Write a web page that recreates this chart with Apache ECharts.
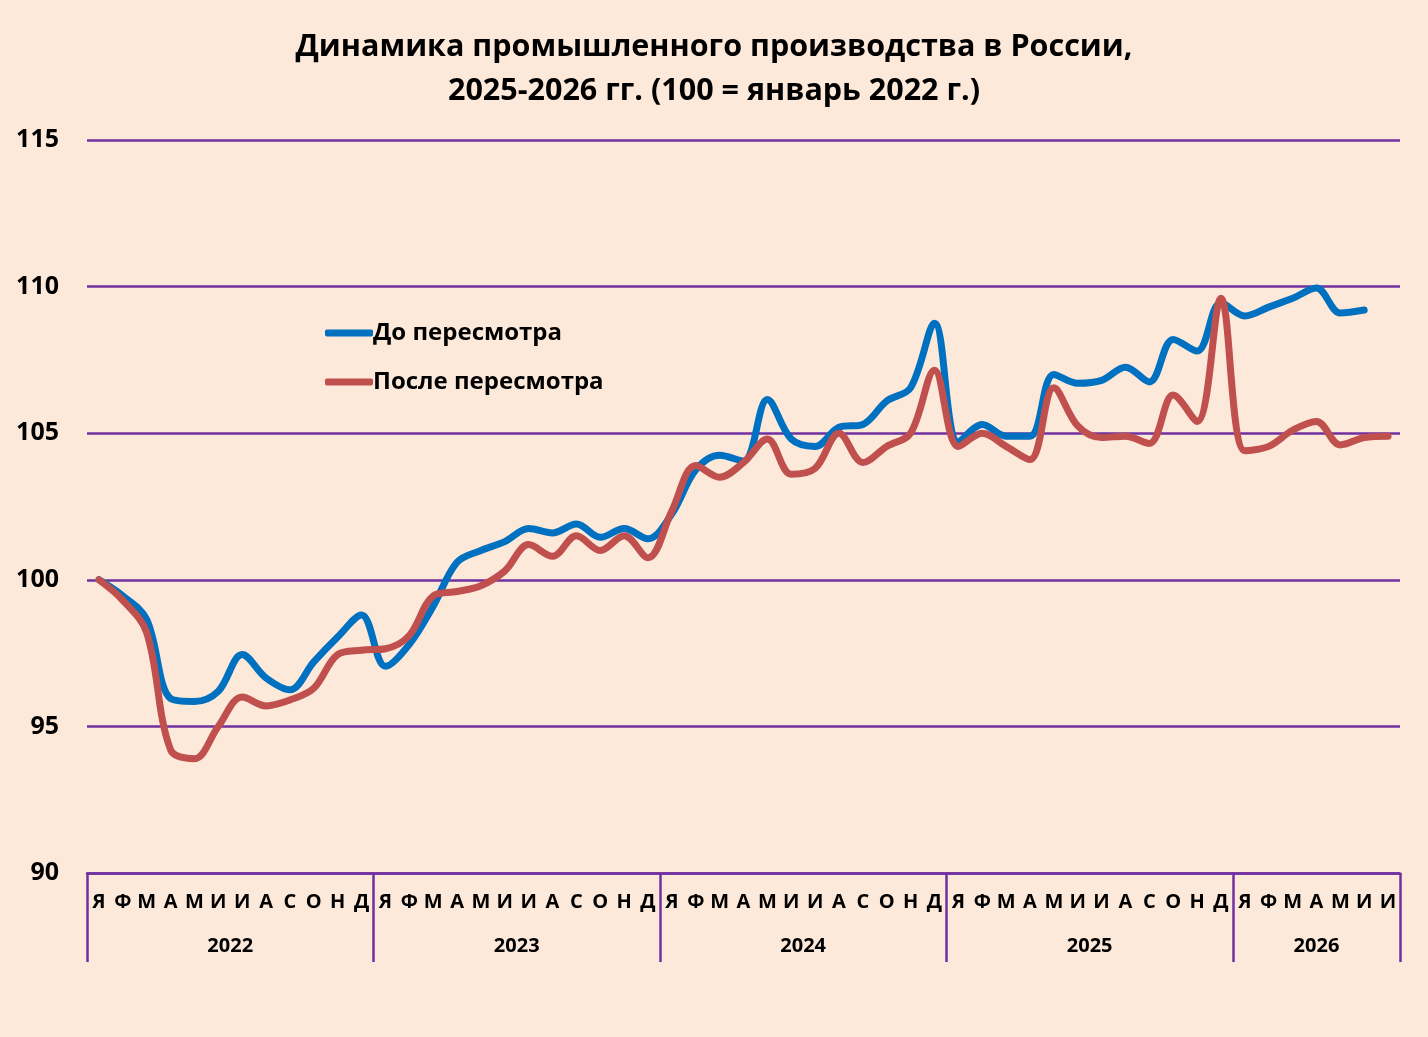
<!DOCTYPE html>
<html>
<head>
<meta charset="utf-8">
<script src="https://cdn.jsdelivr.net/npm/echarts@6/dist/echarts.min.js"></script>
<style>
  html, body { margin: 0; padding: 0; background: #f2f2f2; }
  #chart { width: 1428px; height: 1037px; }
</style>
</head>
<body>
<div id="chart"></div>
<script>
// месяцы и годы по оси X
const monthLetters = ['Я', 'Ф', 'М', 'А', 'М', 'И', 'И', 'А', 'С', 'О', 'Н', 'Д']
const years = ['2022', '2023', '2024', '2025', '2026']
const monthsInYear = [12, 12, 12, 12, 7]

// До пересмотра (янв 2022 - июн 2026)
const before = [
  100.0, 99.45, 98.65, 95.95, 95.85, 96.2, 97.45, 96.65, 96.25, 97.2, 98.05, 98.8,
  97.05, 97.8, 99.1, 100.6, 101.0, 101.3, 101.75, 101.6, 101.9, 101.45, 101.75, 101.4,
  102.25, 103.75, 104.25, 104.05, 106.15, 104.8, 104.55, 105.2, 105.3, 106.1, 106.55, 108.75,
  104.7, 105.3, 104.9, 104.9, 107.0, 106.7, 106.8, 107.25, 106.75, 108.2, 107.8, 109.45,
  109.0, 109.3, 109.6, 109.95, 109.1, 109.2, null
]

// После пересмотра (янв 2022 - июл 2026)
const after = [
  100.0, 99.3, 98.2, 94.2, 93.9, 95.0, 96.0, 95.7, 95.9, 96.3, 97.45, 97.6,
  97.65, 98.1, 99.45, 99.6, 99.8, 100.3, 101.2, 100.8, 101.5, 101.0, 101.5, 100.75,
  102.35, 103.9, 103.5, 104.0, 104.8, 103.6, 103.8, 105.0, 104.0, 104.55, 105.0, 107.15,
  104.55, 105.0, 104.55, 104.1, 106.55, 105.25, 104.85, 104.9, 104.65, 106.3, 105.4, 109.6,
  104.4, 104.55, 105.1, 105.4, 104.6, 104.85, 104.9
]

const yTicks = [90, 95, 100, 105, 110, 115]

let months = []
let yearBounds = [0]
let yearMids = []
monthsInYear.forEach((n, k) => {
  for (let i = 0; i < n; i++) months.push(monthLetters[i])
  yearMids.push(yearBounds[k] + n / 2)
  yearBounds.push(yearBounds[k] + n)
})

const purple = '#7030A0'
const font = 'Open Sans'

let chart = echarts.init(document.getElementById('chart'))

let option = {
  backgroundColor: '#FDE9DA',
  color: ['#0070C0', '#C0504D'],
  title: {
    text: 'Динамика промышленного производства в России,\n2025-2026 гг. (100 = январь 2022 г.)',
    left: 'center',
    top: 20,
    textStyle: {
      fontFamily: font,
      fontWeight: 'bold',
      fontSize: 30.5,
      lineHeight: 44,
      color: '#000'
    }
  },
  legend: {
    orient: 'vertical',
    left: 320,
    top: 316,
    itemGap: 25,
    icon: 'roundRect',
    itemWidth: 48,
    itemHeight: 7,
    textStyle: {
      fontFamily: font,
      fontWeight: 'bold',
      fontSize: 24,
      color: '#000',
      padding: [0, 0, 0, -5]
    },
    data: ['До пересмотра', 'После пересмотра']
  },
  grid: {
    left: 87,
    right: 28,
    top: 140,
    bottom: 164
  },
  xAxis: [{
    type: 'category',
    data: months,
    boundaryGap: true,
    axisLine: { lineStyle: { color: purple, width: 2.5 } },
    axisTick: { show: false },
    axisLabel: {
      interval: 0,
      margin: 19,
      fontFamily: font,
      fontWeight: 'bold',
      fontSize: 20,
      color: '#000'
    }
  }, {
    type: 'value',
    min: 0,
    max: months.length,
    position: 'bottom',
    axisLine: { show: false },
    splitLine: { show: false },
    axisTick: {
      show: true,
      customValues: yearBounds,
      length: 89,
      lineStyle: { color: purple, width: 2.5 }
    },
    axisLabel: {
      customValues: yearMids,
      margin: 63,
      fontFamily: font,
      fontWeight: 'bold',
      fontSize: 20,
      color: '#000',
      formatter: function (v) {
        let k = yearMids.indexOf(v)
        return k >= 0 ? years[k] : ''
      }
    }
  }],
  yAxis: {
    type: 'value',
    min: yTicks[0],
    max: yTicks[yTicks.length - 1],
    interval: 5,
    axisLine: { show: false },
    axisTick: { show: false },
    axisLabel: {
      margin: 28,
      fontFamily: font,
      fontWeight: 'bold',
      fontSize: 25,
      color: '#000'
    },
    splitLine: { lineStyle: { color: purple, width: 2.5 } }
  },
  series: [{
    name: 'До пересмотра',
    type: 'line',
    data: before,
    smooth: 0.35,
    symbol: 'none',
    lineStyle: { width: 7, cap: 'round', join: 'round' }
  }, {
    name: 'После пересмотра',
    type: 'line',
    data: after,
    smooth: 0.35,
    symbol: 'none',
    lineStyle: { width: 7, cap: 'round', join: 'round' }
  }]
}

chart.setOption(option)
</script>
</body>
</html>
